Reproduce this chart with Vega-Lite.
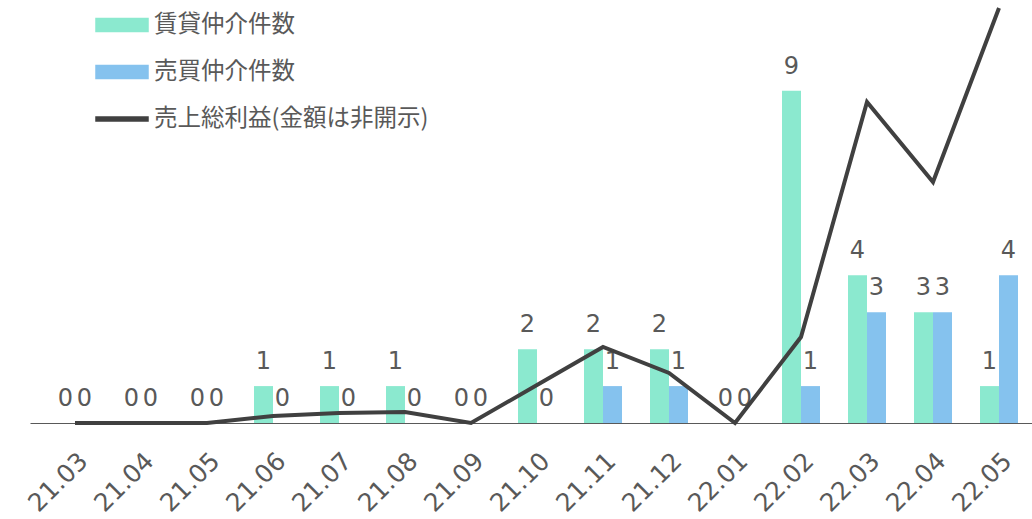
{
  "$schema": "https://vega.github.io/schema/vega-lite/v6.json",
  "width": 1002,
  "height": 423,
  "autosize": "none",
  "padding": {"left": 30, "top": 0, "right": 0, "bottom": 96},
  "config": {"view": {"stroke": null}, "font": "DejaVu Sans"},
  "datasets": {
    "bars": [
      {"month": "21.03", "series": "賃貸仲介件数", "count": 0},
      {"month": "21.03", "series": "売買仲介件数", "count": 0},
      {"month": "21.04", "series": "賃貸仲介件数", "count": 0},
      {"month": "21.04", "series": "売買仲介件数", "count": 0},
      {"month": "21.05", "series": "賃貸仲介件数", "count": 0},
      {"month": "21.05", "series": "売買仲介件数", "count": 0},
      {"month": "21.06", "series": "賃貸仲介件数", "count": 1},
      {"month": "21.06", "series": "売買仲介件数", "count": 0},
      {"month": "21.07", "series": "賃貸仲介件数", "count": 1},
      {"month": "21.07", "series": "売買仲介件数", "count": 0},
      {"month": "21.08", "series": "賃貸仲介件数", "count": 1},
      {"month": "21.08", "series": "売買仲介件数", "count": 0},
      {"month": "21.09", "series": "賃貸仲介件数", "count": 0},
      {"month": "21.09", "series": "売買仲介件数", "count": 0},
      {"month": "21.10", "series": "賃貸仲介件数", "count": 2},
      {"month": "21.10", "series": "売買仲介件数", "count": 0},
      {"month": "21.11", "series": "賃貸仲介件数", "count": 2},
      {"month": "21.11", "series": "売買仲介件数", "count": 1},
      {"month": "21.12", "series": "賃貸仲介件数", "count": 2},
      {"month": "21.12", "series": "売買仲介件数", "count": 1},
      {"month": "22.01", "series": "賃貸仲介件数", "count": 0},
      {"month": "22.01", "series": "売買仲介件数", "count": 0},
      {"month": "22.02", "series": "賃貸仲介件数", "count": 9},
      {"month": "22.02", "series": "売買仲介件数", "count": 1},
      {"month": "22.03", "series": "賃貸仲介件数", "count": 4},
      {"month": "22.03", "series": "売買仲介件数", "count": 3},
      {"month": "22.04", "series": "賃貸仲介件数", "count": 3},
      {"month": "22.04", "series": "売買仲介件数", "count": 3},
      {"month": "22.05", "series": "賃貸仲介件数", "count": 1},
      {"month": "22.05", "series": "売買仲介件数", "count": 4}
    ],
    "profit": [
      {"month": "21.03", "profit": 0},
      {"month": "21.04", "profit": 0},
      {"month": "21.05", "profit": 0},
      {"month": "21.06", "profit": 7},
      {"month": "21.07", "profit": 10},
      {"month": "21.08", "profit": 11},
      {"month": "21.09", "profit": 0},
      {"month": "21.10", "profit": 38},
      {"month": "21.11", "profit": 76},
      {"month": "21.12", "profit": 50},
      {"month": "22.01", "profit": 0},
      {"month": "22.02", "profit": 86},
      {"month": "22.03", "profit": 321},
      {"month": "22.04", "profit": 241},
      {"month": "22.05", "profit": 415}
    ]
  },
  "encoding": {
    "x": {
      "field": "month",
      "type": "nominal",
      "sort": null,
      "scale": {"paddingInner": 0.4242, "paddingOuter": 0.303, "align": 0.65},
      "axis": {
        "title": null,
        "ticks": false,
        "labelAngle": -45,
        "labelFontSize": 25,
        "labelColor": "#595959",
        "labelPadding": 25,
        "domainColor": "#595959",
        "domainWidth": 1.2
      }
    }
  },
  "layer": [
    {
      "data": {"name": "bars"},
      "mark": {"type": "bar"},
      "encoding": {
        "xOffset": {"field": "series", "type": "nominal", "sort": ["賃貸仲介件数", "売買仲介件数"], "scale": {"paddingInner": 0, "paddingOuter": 0}},
        "y": {"field": "count", "type": "quantitative", "scale": {"domain": [0, 11.46], "nice": false}, "axis": null},
        "color": {
          "field": "series",
          "type": "nominal",
          "scale": {
            "domain": ["賃貸仲介件数", "売買仲介件数", "売上総利益(金額は非開示)"],
            "range": ["#8be9cf", "#85c2ee", "#404040"]
          },
          "legend": {
            "title": null,
            "orient": "none",
            "legendX": 65,
            "legendY": -2,
            "padding": 0,
            "labelFont": "Noto Sans CJK JP",
            "labelFontSize": 23.5,
            "labelColor": "#595959",
            "labelOffset": 5,
            "labelLimit": 0,
            "symbolSize": 2704,
            "rowPadding": 8,
            "encode": {
              "symbols": {
                "update": {
                  "shape": {"signal": "datum.value === '売上総利益(金額は非開示)' ? 'M-1,-0.08H1V0.08H-1Z' : 'M-1,-0.25H1V0.25H-1Z'"},
                  "fill": {"scale": "color", "field": "value"},
                  "stroke": {"value": "transparent"},
                  "opacity": {"value": 1},
                  "fillOpacity": {"value": 1}
                }
              }
            }
          }
        }
      }
    },
    {
      "data": {"name": "bars"},
      "mark": {"type": "text", "fontSize": 24, "color": "#595959", "baseline": "alphabetic", "dy": -17},
      "encoding": {
        "xOffset": {"field": "series", "type": "nominal", "sort": ["賃貸仲介件数", "売買仲介件数"], "scale": {"paddingInner": 0, "paddingOuter": 0}},
        "y": {"field": "count", "type": "quantitative", "scale": {"domain": [0, 11.46], "nice": false}, "axis": null},
        "text": {"field": "count", "type": "quantitative"}
      }
    },
    {
      "data": {"name": "profit"},
      "mark": {"type": "line", "strokeWidth": 4},
      "encoding": {
        "y": {"field": "profit", "type": "quantitative", "scale": {"domain": [0, 423], "nice": false}, "axis": null},
        "color": {"datum": "売上総利益(金額は非開示)", "type": "nominal"}
      }
    }
  ],
  "resolve": {"scale": {"y": "independent"}}
}
